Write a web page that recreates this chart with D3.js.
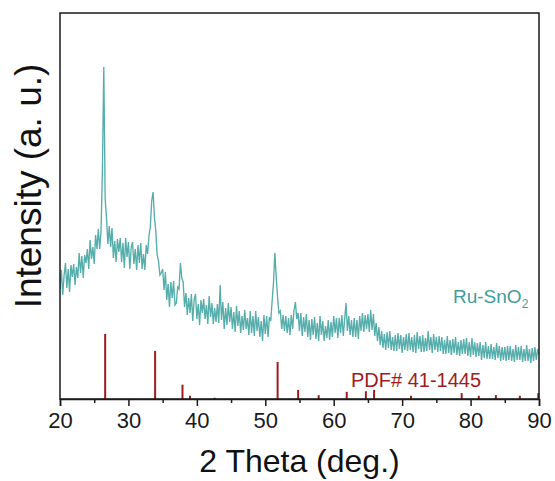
<!DOCTYPE html>
<html><head><meta charset="utf-8">
<script src="https://cdn.jsdelivr.net/npm/d3@7"></script>
<style>body{margin:0;background:#fff}svg{display:block}</style>
</head><body><svg id="c" width="555" height="481"></svg>
<script>
// XRD pattern sampled every 0.2 deg from 20 to 90 deg (arbitrary units)
const thetaStart = 20, thetaStep = 0.2;
const intensity = [
110,129,104,124,136,111,130,107,134,122,
135,114,132,121,146,126,143,121,144,136,
150,130,159,140,152,135,164,150,170,150,
168,230,332,200,180,
155,173,152,171,141,158,137,160,147,161,
137,156,131,161,142,157,130,151,157,135,
150,129,154,136,156,130,145,129,154,145,
163,172,198,207,182,168,144,138,124,126,
130,109,127,99,115,92,117,101,118,94,
96,112,110,136,121,117,92,106,84,101,
86,105,78,99,105,80,95,74,99,86,
100,80,94,75,103,82,96,75,91,77,
95,76,114,79,97,70,91,74,96,77,
92,70,87,67,93,73,88,66,83,69,
89,70,81,64,88,66,83,63,88,68,
82,62,78,58,84,65,83,62,82,78,
98,116,146,122,101,86,88,70,84,68,
83,66,81,64,84,70,89,97,80,86,
68,86,63,82,67,85,62,79,59,80,
64,82,60,76,58,83,64,78,58,73,
61,79,59,77,62,83,66,81,61,81,
66,84,63,80,96,68,83,64,79,62,
81,62,79,60,83,68,86,67,84,70,
85,67,89,69,85,63,76,58,72,54,
68,51,65,49,67,51,68,49,62,48,
64,48,66,50,64,46,62,49,65,48,
66,49,62,47,64,46,67,50,63,47,
64,47,61,48,68,49,62,46,65,49,
62,47,63,48,62,45,59,45,63,46,
59,44,60,46,62,44,57,43,59,45,
60,45,61,43,57,42,61,44,57,42,
56,43,57,39,54,41,57,40,53,40,
55,40,52,39,56,41,53,38,52,39,
52,38,53,39,53,38,50,37,54,39,
52,39,53,37,50,38,54,38,50,36,
51,38,52,39,50,44
];
// Reference pattern PDF# 41-1445 (SnO2)
const pdfPositions = [26.6,33.9,37.9,39.0,42.6,51.8,54.8,57.8,61.9,64.7,65.9,71.3,78.7,81.2,83.7,87.2,89.9];
const pdfIntensity = [100,74,22,5,2,57,14,6,11,12,14,5,9,5,6,5,9];
const xMajorTicks = [20,30,40,50,60,70,80,90];
const xMinorTicks = [25,35,45,55,65,75,85];
const xTitle = "2 Theta (deg.)";
const yTitle = "Intensity (a. u.)";
const sampleName = "Ru-SnO";
const sampleSub = "2";
const refName = "PDF# 41-1445";

const L = 60, R = 539, T = 13, B = 399;
const svg = d3.select("#c");
const x = d3.scaleLinear().domain([20, 90]).range([L, R]);
const y = d3.scaleLinear().domain([0, 386]).range([B, T]);
const yRef = d3.scaleLinear().domain([0, 100]).range([B, B - 65]);

const teal = "#55aeab", red = "#9e1b1e", ink = "#1a1a1a";
const font = "Arial, 'Liberation Sans', Helvetica, sans-serif";

// data line
const pts = intensity.map((v, i) => [thetaStart + i * thetaStep, v]);
svg.append("clipPath").attr("id", "clp").append("rect")
  .attr("x", L).attr("y", T).attr("width", R - L).attr("height", B - T);
svg.append("path").datum(pts)
  .attr("clip-path", "url(#clp)")
  .attr("fill", "none").attr("stroke", teal).attr("stroke-width", 1.35)
  .attr("stroke-linejoin", "miter")
  .attr("d", d3.line().x(d => x(d[0])).y(d => y(d[1])));

// reference sticks
svg.append("g").selectAll("line").data(pdfPositions).join("line")
  .attr("x1", d => x(d)).attr("x2", d => x(d))
  .attr("y1", yRef(0)).attr("y2", (d, i) => yRef(pdfIntensity[i]))
  .attr("stroke", red).attr("stroke-width", 2);

// frame
svg.append("rect").attr("x", L).attr("y", T).attr("width", R - L).attr("height", B - T)
  .attr("fill", "none").attr("stroke", ink).attr("stroke-width", 1.5);

// x axis
const gx = svg.append("g").attr("transform", `translate(0,${B})`)
  .call(d3.axisBottom(x).tickValues(xMajorTicks).tickSize(7).tickPadding(6).tickFormat(d3.format("d")));
gx.select(".domain").attr("stroke", ink).attr("stroke-width", 1.5);
gx.selectAll(".tick line").attr("stroke", ink).attr("stroke-width", 1.5);
gx.selectAll(".tick text").attr("font-family", font).attr("font-size", 22).attr("fill", ink);
const gm = svg.append("g").attr("transform", `translate(0,${B})`)
  .call(d3.axisBottom(x).tickValues(xMinorTicks).tickSize(4).tickFormat(""));
gm.select(".domain").remove();
gm.selectAll(".tick line").attr("stroke", ink).attr("stroke-width", 1.5);

// titles
svg.append("text").attr("x", (L + R) / 2).attr("y", 472)
  .attr("text-anchor", "middle").attr("font-family", font).attr("font-size", 32)
  .attr("fill", "#111").text(xTitle);
svg.append("text").attr("transform", `translate(41,${186}) rotate(-90)`)
  .attr("text-anchor", "middle").attr("font-family", font).attr("font-size", 37)
  .attr("fill", "#111").text(yTitle);

// labels
const lab = svg.append("text").attr("x", 453).attr("y", 303)
  .attr("font-family", font).attr("font-size", 19).attr("fill", "#3f9e9c");
lab.append("tspan").text(sampleName);
lab.append("tspan").attr("font-size", 12).attr("dy", 5).text(sampleSub);
svg.append("text").attr("x", 351).attr("y", 387)
  .attr("font-family", font).attr("font-size", 20).attr("fill", red).text(refName);
</script>
</body></html>
